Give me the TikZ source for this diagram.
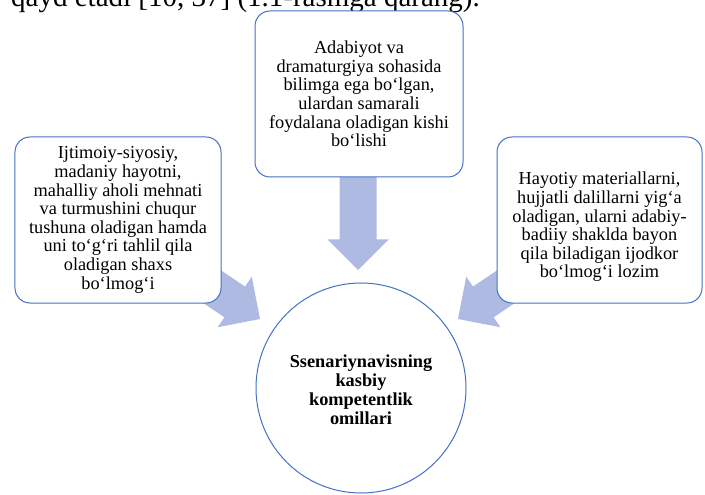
\documentclass[tikz,border=0pt]{standalone}
\usepackage{fontspec}
\setmainfont{Liberation Serif}
\usetikzlibrary{calc}
\definecolor{boxblue}{RGB}{68,114,196}
\definecolor{arrowfill}{RGB}{174,186,225}
\begin{document}
\begin{tikzpicture}[x=1bp,y=-1bp,
  box/.style={draw=boxblue, line width=1bp, fill=white, rounded corners=15bp,
    inner sep=0pt, align=center, font=\fontsize{18.3bp}{18.6bp}\selectfont},
  boxtext/.style={inner sep=0pt, align=center, font=\fontsize{18.3bp}{18.6bp}\selectfont},
  hub/.style={circle, draw=boxblue, line width=1bp, fill=white, inner sep=0pt,
    align=center, font=\fontsize{18.3bp}{19bp}\selectfont\bfseries},
  blockarrow/.style={fill=arrowfill, draw=none}]
\useasboundingbox (0,0) rectangle (705,495);
\clip (0,0) rectangle (705,495);

\node[anchor=base west, inner sep=0pt, font=\fontsize{29bp}{33bp}\selectfont] (intro) at (11,7)
  {qayd etadi [10, 37] (1.1-rasmga qarang).};

% block arrows (drawn first, the boxes cover their tails)
\coordinate (tipT) at (358,270);
\coordinate (tipL) at (260,319);
\coordinate (tipR) at (458,319);
\foreach \tip/\ang/\len in {tipT/-90/110, tipL/-34/100, tipR/-146/100}{
  \begin{scope}[shift={(\tip)}, rotate=\ang]
    \fill[blockarrow] (0,0) -- (-30.5,30.5) -- (-30.5,18.5) -- (-\len,18.5)
      -- (-\len,-18.5) -- (-30.5,-18.5) -- (-30.5,-30.5) -- cycle;
  \end{scope}
}

\node[box, minimum width=208bp, minimum height=166bp] (top) at (359,94)
  {Adabiyot va\\dramaturgiya sohasida\\bilimga ega bo‘lgan,\\ulardan samarali\\foydalana oladigan kishi\\bo‘lishi};
\node[box, minimum width=206bp, minimum height=166bp] (left) at (118,220)
  {Ijtimoiy-siyosiy,\\madaniy hayotni,\\mahalliy aholi mehnati\\va turmushini chuqur\\tushuna oladigan hamda\\uni to‘g‘ri tahlil qila\\oladigan shaxs\\bo‘lmog‘i};
\node[box, minimum width=205bp, minimum height=166bp] (right) at (599.5,220) {};
\node[boxtext] (righttext) at ($(right.center)+(0,7)$)
  {Hayotiy materiallarni,\\hujjatli dalillarni yig‘a\\oladigan, ularni adabiy-\\badiiy shaklda bayon\\qila biladigan ijodkor\\bo‘lmog‘i lozim};
\node[hub, minimum size=210bp] (center) at (361,388) {};
\node[boxtext, font=\fontsize{18.3bp}{19bp}\selectfont\bfseries] (centertext) at ($(center.center)+(0,2)$)
  {Ssenariynavisning\\kasbiy\\kompetentlik\\omillari};
\end{tikzpicture}
\end{document}
